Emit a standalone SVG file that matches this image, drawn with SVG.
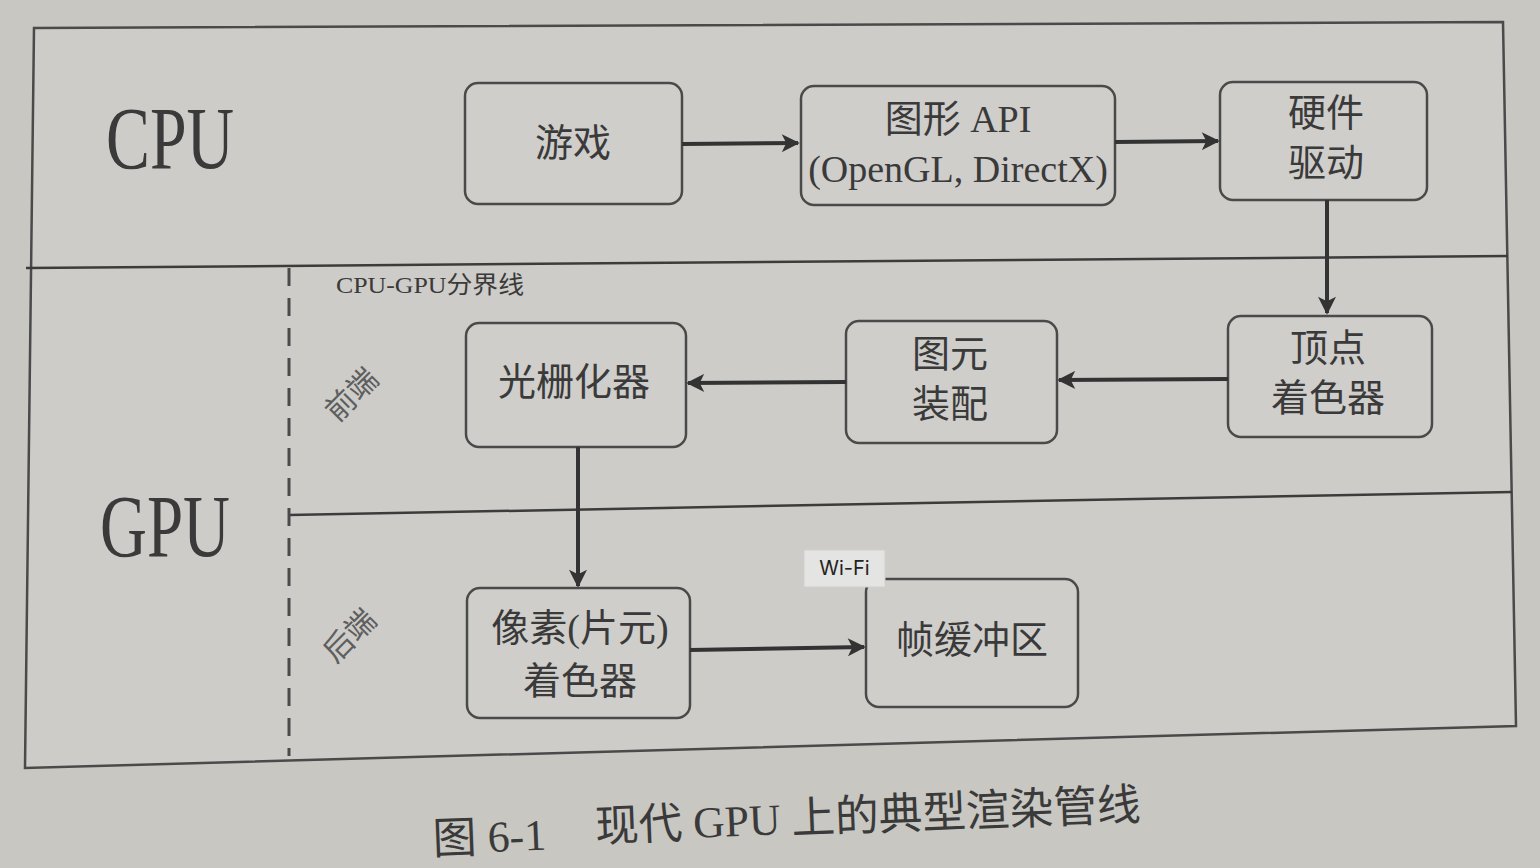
<svg xmlns="http://www.w3.org/2000/svg" width="1540" height="868" viewBox="0 0 1540 868">
<style>
  .bg{fill:#c8c7c2}
  .frame{fill:#cdccc8;stroke:#4a4a4a;stroke-width:2.5}
  .line{stroke:#3c3c3c;stroke-width:2.5;fill:none}
  .dash{stroke:#4a4a4a;stroke-width:3;stroke-dasharray:18 12;fill:none}
  .box{fill:#cfcecb;stroke:#4a4a4a;stroke-width:2.5}
  .t{font-family:"Liberation Serif","Noto Sans CJK SC",serif;fill:#3a3a3a;text-anchor:middle}
  .bt{font-size:38px}
  .big{font-size:88px}
  .small{font-size:24px}
  .rot{font-size:30px;fill:#5e5e5e}
  .conn{stroke:#333;stroke-width:4;fill:none}
</style>
<defs>
  <marker id="ah" viewBox="0 0 10 10" refX="9" refY="5" markerWidth="5" markerHeight="4.5" orient="auto" markerUnits="strokeWidth">
    <path d="M0,0 L10,5 L0,10 L2.5,5 Z" fill="#333"/>
  </marker>
</defs>
<rect class="bg" x="0" y="0" width="1540" height="868"/>
<polygon class="frame" points="34,28 1503,22 1516,726 25,768"/>
<line class="line" x1="26" y1="268" x2="1508" y2="256"/>
<line class="line" x1="289" y1="515" x2="1512" y2="492"/>
<line class="dash" x1="289" y1="268" x2="289" y2="756"/>

<g id="cpu-label"><text class="t big" x="170" y="168" textLength="128" lengthAdjust="spacingAndGlyphs">CPU</text></g>
<g id="gpu-label"><text class="t big" x="165" y="556" textLength="130" lengthAdjust="spacingAndGlyphs">GPU</text></g>
<g id="boundary-label"><text class="t small" x="430" y="293" textLength="188" lengthAdjust="spacingAndGlyphs">CPU-GPU分界线</text></g>
<g id="frontend-label"><text class="t rot" transform="translate(352,395) rotate(-45)" y="10">前端</text></g>
<g id="backend-label"><text class="t rot" transform="translate(350,636) rotate(-45)" y="10">后端</text></g>

<g id="game"><rect class="box" x="465" y="83" width="217" height="121" rx="13"/><text class="t bt" x="573" y="156">游戏</text></g>
<g id="api"><rect class="box" x="801" y="86" width="314" height="119" rx="13"/><text class="t bt" x="958" y="132">图形 API</text><text class="t bt" x="958" y="182">(OpenGL, DirectX)</text></g>
<g id="driver"><rect class="box" x="1220" y="82" width="207" height="118" rx="13"/><text class="t bt" x="1326" y="126">硬件</text><text class="t bt" x="1326" y="176">驱动</text></g>
<g id="vertex"><rect class="box" x="1228" y="316" width="204" height="121" rx="13"/><text class="t bt" x="1328" y="361">顶点</text><text class="t bt" x="1328" y="411">着色器</text></g>
<g id="primitive"><rect class="box" x="846" y="321" width="211" height="122" rx="13"/><text class="t bt" x="950" y="367">图元</text><text class="t bt" x="950" y="417">装配</text></g>
<g id="raster"><rect class="box" x="466" y="323" width="220" height="124" rx="13"/><text class="t bt" x="574" y="395">光栅化器</text></g>
<g id="pixel"><rect class="box" x="467" y="588" width="223" height="130" rx="13"/><text class="t bt" x="580" y="641">像素(片元)</text><text class="t bt" x="580" y="694">着色器</text></g>
<g id="framebuffer"><rect class="box" x="866" y="579" width="212" height="128" rx="13"/><text class="t bt" x="972" y="653">帧缓冲区</text></g>

<g id="connectors">
  <line class="conn" x1="682" y1="144" x2="798" y2="143" marker-end="url(#ah)"/>
  <line class="conn" x1="1115" y1="142" x2="1218" y2="141" marker-end="url(#ah)"/>
  <line class="conn" x1="1327" y1="200" x2="1327" y2="313" marker-end="url(#ah)"/>
  <line class="conn" x1="1228" y1="379" x2="1059" y2="380" marker-end="url(#ah)"/>
  <line class="conn" x1="846" y1="382" x2="688" y2="383" marker-end="url(#ah)"/>
  <line class="conn" x1="578" y1="447" x2="578" y2="586" marker-end="url(#ah)"/>
  <line class="conn" x1="690" y1="650" x2="864" y2="647" marker-end="url(#ah)"/>
</g>

<g id="wifi"><rect x="804" y="550" width="81" height="37" fill="#e4e4e2" stroke="#d0d0ce" stroke-width="1"/><text x="844.5" y="575" font-family="Inter,'Noto Sans',sans-serif" font-size="20" fill="#222" text-anchor="middle">Wi-Fi</text></g>

<g id="caption" transform="rotate(-2.3 787 822)">
  <text class="t" x="489" y="840" font-size="44">图 6-1</text>
  <text class="t" x="868" y="834" font-size="44" textLength="546" lengthAdjust="spacingAndGlyphs">现代 GPU 上的典型渲染管线</text>
</g>
</svg>
